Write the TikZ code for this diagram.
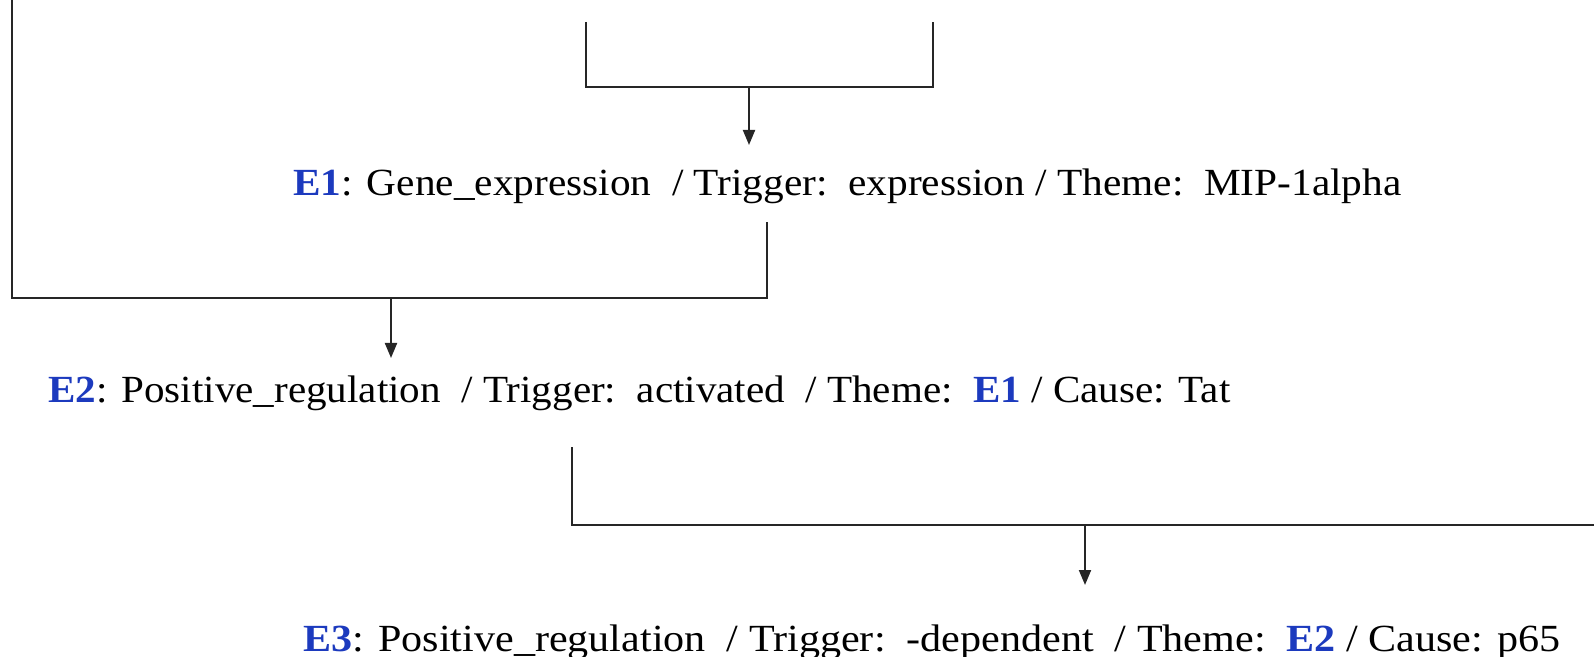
\documentclass[tikz,border=0pt]{standalone}
\usepackage{fontspec}
\usepackage{graphicx}
\setmainfont{Liberation Serif}
\usetikzlibrary{arrows.meta}
\definecolor{eblue}{RGB}{28,58,190}
\newcommand{\ev}[1]{\textcolor{eblue}{\textbf{#1}}}
\newcommand{\fitw}[2]{\resizebox{#1}{\height}{#2}}
\tikzset{
  conn/.style={line width=1pt, black!85},
  arr/.style={conn, -{Stealth[length=7.5pt,width=6pt,inset=0pt]}},
  evtext/.style={anchor=base west, inner sep=0pt, font=\fontsize{19.2pt}{22pt}\selectfont}
}
\begin{document}
\begin{tikzpicture}[x=0.5pt,y=-0.5pt]
\useasboundingbox (0,0) rectangle (1594,657);
% event lines
\node[evtext] (e1) at (293,196) {\fitw{554pt}{\ev{E1}: Gene\_expression\ \ / Trigger:\ \ expression / Theme:\ \ MIP-1alpha}};
\node[evtext] (e2) at (48,402) {\fitw{591pt}{\ev{E2}: Positive\_regulation\ \ / Trigger:\ \ activated\ \ / Theme:\ \ \ev{E1} / Cause: Tat}};
\node[evtext] (e3) at (303,651) {\fitw{628.5pt}{\ev{E3}: Positive\_regulation\ \ / Trigger:\ \ -dependent\ \ / Theme:\ \ \ev{E2} / Cause: p65}};
% connector corner coordinates
\coordinate (b1l) at (586,22);
\coordinate (b1r) at (933,22);
\coordinate (b1m) at (749,87);
\coordinate (l1top) at (12,0);
\coordinate (l1bot) at (12,298);
\coordinate (r1top) at (767,222);
\coordinate (m1) at (391,298);
\coordinate (l2top) at (572,447);
\coordinate (r2) at (1594,525);
\coordinate (m2) at (1085,525);
% bracket to E1
\draw[conn] (b1l) |- (b1m -| b1r) -- (b1r);
\draw[arr] (b1m) -- (b1m |- 0,145);
% E1 and left branch to E2
\draw[conn] (l1top) -- (l1bot) -| (r1top);
\draw[arr] (m1) -- (m1 |- 0,358);
% E2 to E3
\draw[conn] (l2top) |- (r2);
\draw[arr] (m2) -- (m2 |- 0,585);
\end{tikzpicture}
\end{document}
